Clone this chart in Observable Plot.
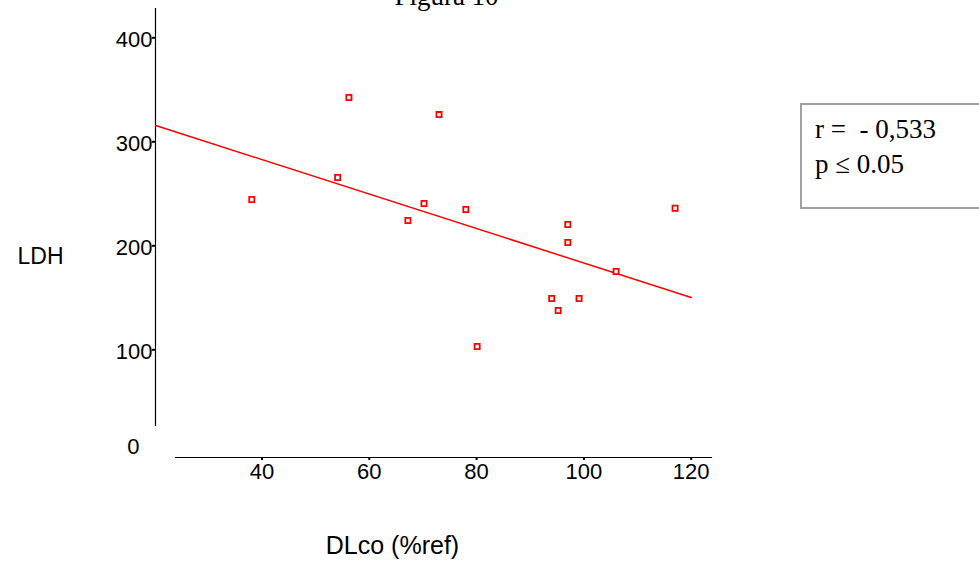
<!DOCTYPE html>
<html>
<head>
<meta charset="utf-8">
<script src="https://cdn.jsdelivr.net/npm/d3@7"></script>
<script src="https://cdn.jsdelivr.net/npm/@observablehq/plot@0.6"></script>
<style>
  html, body { margin: 0; padding: 0; background: white; overflow: hidden; }
  #wrap { position: relative; width: 979px; height: 574px; }
  #legend {
    position: absolute; left: 800px; top: 103px; width: 190px; height: 106px;
    border: 2px solid #a0a0a0; box-sizing: border-box; background: white;
    font-family: "Liberation Serif", "Times New Roman", serif; font-size: 27px; color: black;
  }
  #legend div { position: absolute; left: 13px; white-space: pre; line-height: 1; }
</style>
</head>
<body>
<div id="wrap"></div>
<script>
// Data
const dlco = [38.1, 56.2, 54.1, 67.2, 70.2, 73.0, 78.0, 80.1, 94.0, 95.2, 97.0, 97.0, 99.1, 106.0, 117.0];
const ldh  = [244.5, 342.6, 265.7, 224.3, 240.7, 326.2, 234.9, 103.2, 149.3, 137.8, 220.5, 203.2, 149.3, 175.3, 236.1];
// regression line end points (as drawn)
const fitX = [20.2, 120];
const fitY = [315.7, 150.3];
const xTicks = [40, 60, 80, 100, 120];
const yTicks = [100, 200, 300, 400];
const yZeroLabel = [0];
const title = "Figura 10";
const xLabel = "DLco (%ref)";
const yLabel = "LDH";
const statLines = ["r =  - 0,533", "p \u2264 0.05"];

const points = dlco.map((d, i) => ({x: d, y: ldh[i]}));
const fit = fitX.map((d, i) => ({x: d, y: fitY[i]}));

const serif = "Liberation Serif, Times New Roman, serif";

const chart = Plot.plot({
  width: 979,
  height: 574,
  marginTop: 8,
  marginBottom: 149,
  marginLeft: 155,
  marginRight: 268,
  style: {fontFamily: "Liberation Sans, Arial, sans-serif", fontSize: "22px", color: "black", background: "white", overflow: "visible"},
  x: {domain: [40, 120], range: [261.5, 690.7]},
  y: {domain: [100, 400], range: [349.3, 37.3]},
  marks: [
    // y axis line
    Plot.frame({anchor: "left", stroke: "black", strokeWidth: 1.2}),
    // y ticks
    Plot.axisY(yTicks, {anchor: "left", tickSize: 3, strokeWidth: 2, tickFormat: () => "", label: null}),
    // y tick labels
    Plot.axisY(yTicks, {anchor: "left", tickSize: 0, tickPadding: 3, dy: 2, label: null, fontSize: 22}),
    Plot.text(yZeroLabel, {y: d => d, text: d => String(d), frameAnchor: "left", dx: -16, dy: -7, textAnchor: "end", fontSize: 22}),
    // x axis line
    Plot.frame({anchor: "bottom", dy: 32, insetLeft: 20, stroke: "black", strokeWidth: 1.2}),
    Plot.axisX(xTicks, {anchor: "bottom", dy: 32, tickSize: 3, strokeWidth: 2, tickFormat: () => "", label: null}),
    Plot.axisX(xTicks, {anchor: "bottom", dy: 32, tickSize: 0, tickPadding: 6, label: null, fontSize: 22}),
    // regression line
    Plot.line(fit, {x: "x", y: "y", stroke: "#ff0000", strokeWidth: 1.5}),
    // points
    Plot.dot(points, {x: "x", y: "y", symbol: "square", r: 2.9, stroke: "#ff0000", fill: "white", strokeWidth: 1.8}),
    // labels
    Plot.text([title], {frameAnchor: "top", dx: 13, dy: -4, lineAnchor: "bottom", fontFamily: serif, fontSize: 27}),
    Plot.text([yLabel], {frameAnchor: "left", dx: -115, dy: 39.5, fontSize: 23, textAnchor: "middle"}),
    Plot.text([xLabel], {frameAnchor: "bottom", dx: -41, dy: 128, fontSize: 25})
  ]
});

const wrap = document.getElementById("wrap");
wrap.appendChild(chart);

const legend = document.createElement("div");
legend.id = "legend";
statLines.forEach((t, i) => {
  const d = document.createElement("div");
  d.textContent = t;
  d.style.top = (11 + i * 35) + "px";
  legend.appendChild(d);
});
wrap.appendChild(legend);
</script>
</body>
</html>
